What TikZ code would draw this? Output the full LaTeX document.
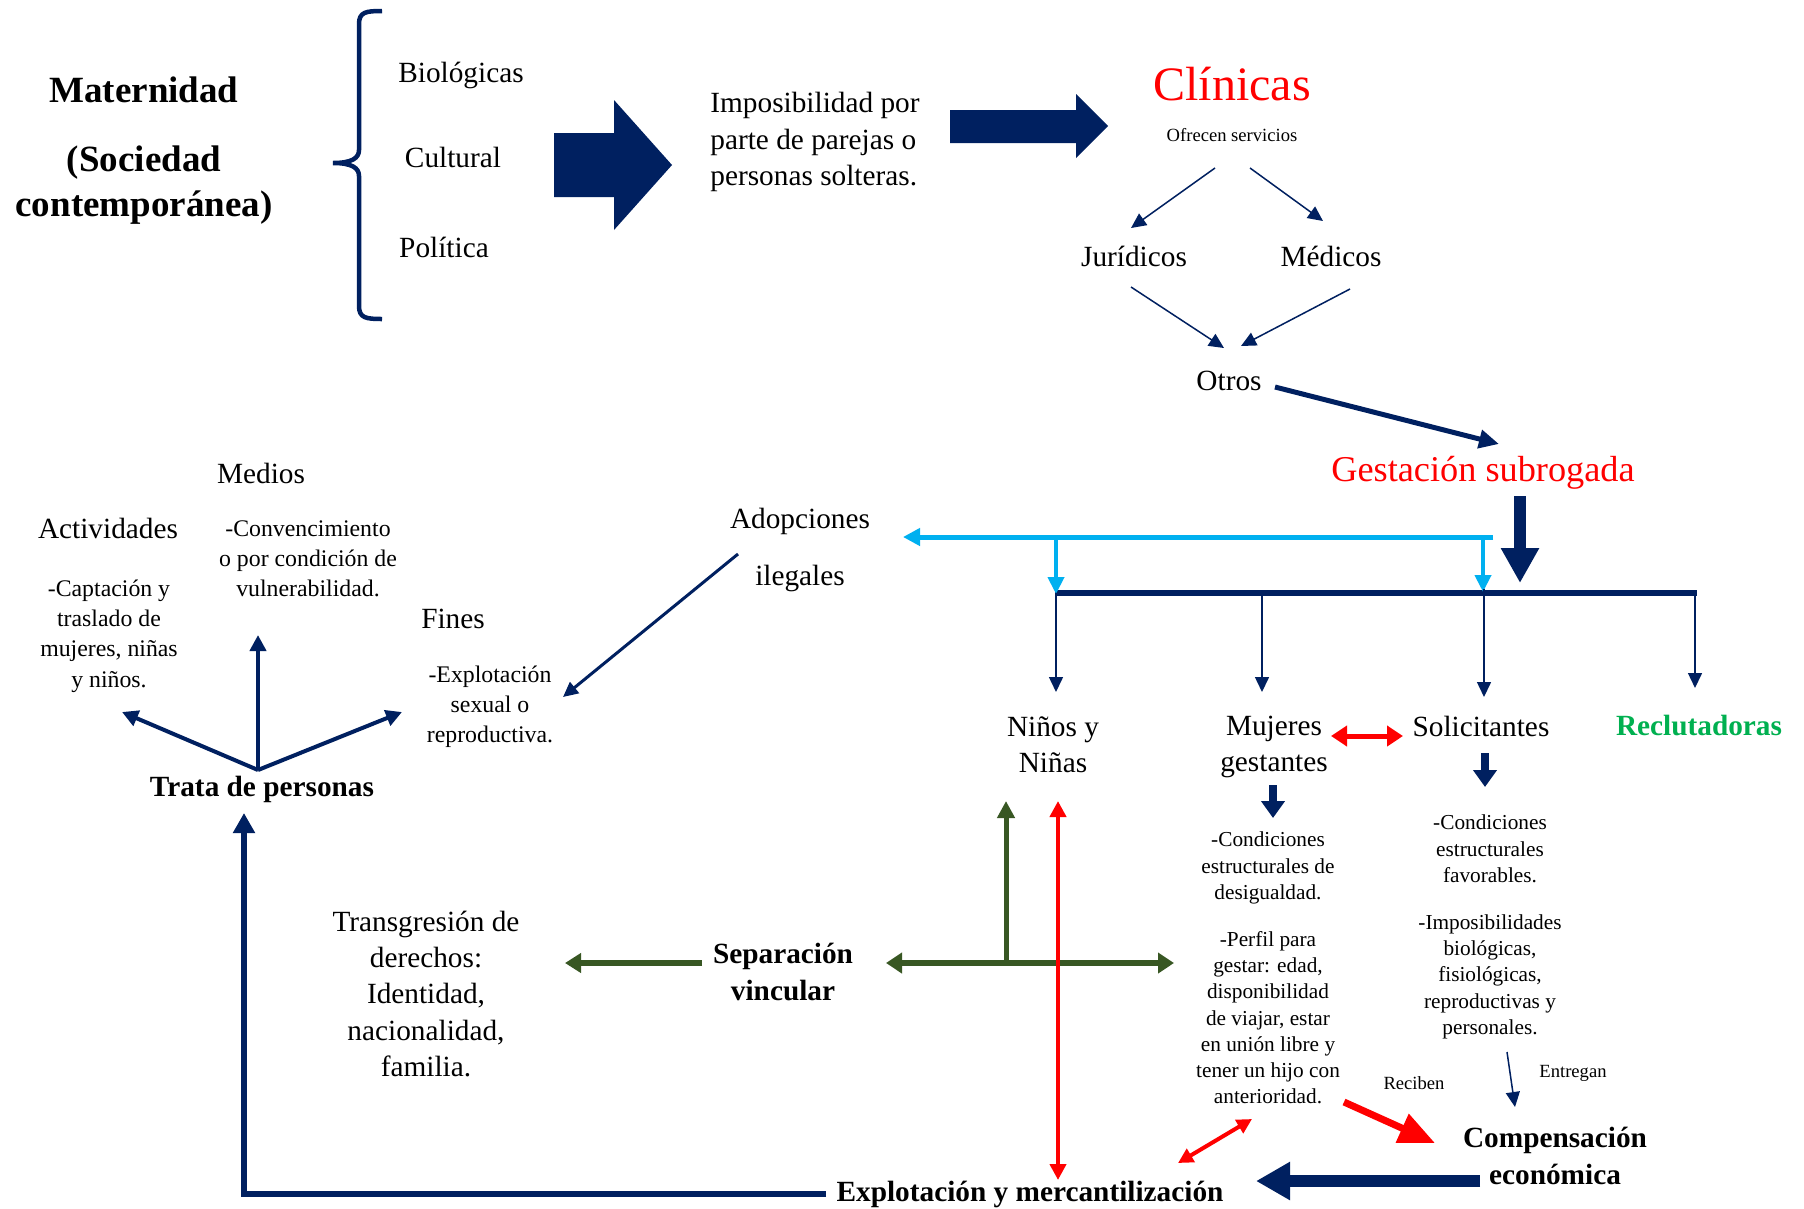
\documentclass[tikz,border=0pt]{standalone}
\usepackage{fontspec}
\setmainfont{Liberation Serif}
\usetikzlibrary{arrows.meta,calc}
\definecolor{navy}{HTML}{002060}
\definecolor{cyanb}{HTML}{00B0F0}
\definecolor{dgreen}{HTML}{385723}
\definecolor{lgreen}{HTML}{00B050}
\definecolor{redc}{HTML}{FF0000}
\begin{document}
\begin{tikzpicture}[x=1pt,y=-1pt,
  every node/.style={inner sep=0pt,outer sep=0pt,align=center},
  tbig/.style={font=\fontsize{29.3}{36.2}\selectfont},
  tbold/.style={font=\bfseries\fontsize{29.3}{36.6}\selectfont},
  ttitle/.style={font=\bfseries\fontsize{37}{44}\selectfont},
  tmid/.style={font=\fontsize{23.8}{30.2}\selectfont},
  tsmall/.style={font=\fontsize{21.3}{26.2}\selectfont},
  ttiny/.style={font=\fontsize{18.6}{22}\selectfont},
  thinarr/.style={draw=navy,line width=1.5pt,-{Triangle[length=15pt,width=14pt]}},
  trataarr/.style={draw=navy,line width=4pt,-{Triangle[length=16pt,width=16pt]}},
  blockarr/.style={fill=navy},
]
\fill[white] (0,0) rectangle (1804,1208);
\useasboundingbox (0,0) rectangle (1804,1208);

% ---------- top row ----------
\node[ttitle] (mat) at (144,90) {Maternidad};
\node[ttitle] (soc) at (144,163) {(Sociedad};
\node[ttitle] (con) at (144,208) {contemporánea)};

\draw[navy,line width=4.5pt]
  (382,11) .. controls (366,11) and (359,12) .. (359,24) -- (359,150)
  .. controls (359,158) and (352,163) .. (333,163)
  .. controls (352,163) and (359,168) .. (359,176) -- (359,306)
  .. controls (359,318) and (366,319) .. (382,319);

\node[tbig] (bio) at (461,75) {Biológicas};
\node[tbig] (cul) at (453,157) {Cultural};
\node[tbig] (pol) at (444,247) {Política};

\fill[blockarr] (554,133) -- (614,133) -- (614,100) -- (672,165) -- (614,230) -- (614,197) -- (554,197) -- cycle;

\node[tbig,align=left] (imp) at (815,142) {Imposibilidad por\\parte de parejas o\\personas solteras.};

\fill[blockarr] (950,110) -- (1076,110) -- (1076,94) -- (1108,126) -- (1076,158) -- (1076,143) -- (950,143) -- cycle;

\node[font=\fontsize{48}{56}\selectfont,text=redc] (cli) at (1232,84) {Clínicas};
\node[ttiny] (ofr) at (1232,135) {Ofrecen servicios};
\node[tbig] (jur) at (1134,256) {Jurídicos};
\node[tbig] (med) at (1331,256) {Médicos};
\node[tbig] (otr) at (1229,381) {Otros};

\draw[thinarr] ([shift={(-17,33)}]ofr.center) -- ([shift={(-3,-28)}]jur.center);
\draw[thinarr] ([shift={(18,33)}]ofr.center) -- ([shift={(-8,-35)}]med.center);
\draw[thinarr] ([shift={(-3,31)}]jur.center) -- ([shift={(-5,-33)}]otr.center);
\draw[thinarr] ([shift={(19,33)}]med.center) -- ([shift={(12,-35)}]otr.center);

\node[font=\fontsize{36.3}{44}\selectfont,text=redc] (ges) at (1483,473) {Gestación subrogada};
\draw[navy,line width=5pt,-{Triangle[length=20pt,width=18pt]}] ([shift={(46,6)}]otr.center) -- ([shift={(16,-29)}]ges.center);

% ---------- bar and branches ----------
\coordinate (barL) at (1056,593);
\coordinate (barM) at (1262,593);
\coordinate (barS) at (1484,593);
\coordinate (barR) at (1695,593);
\coordinate (cyR) at (1491,537);

\draw[navy,line width=11.5pt,-{Triangle[length=35pt,width=36pt]}] ([shift={(37,23)}]ges.center) -- ([shift={(37,110)}]ges.center);
\draw[navy,line width=6pt] ([xshift=-1pt]barL) -- ([xshift=2pt]barR);

\node[tbig] (ado) at (800,550) {Adopciones\\[20pt]ilegales};

\draw[cyanb,line width=5pt,-{Triangle[length=17pt,width=17pt]}] ([xshift=2pt]cyR) -- ([shift={(103,-13)}]ado.center);
\draw[cyanb,line width=4pt,-{Triangle[length=17pt,width=16pt]}] (barL |- cyR) -- ([yshift=-1pt]barL);
\draw[cyanb,line width=4pt,-{Triangle[length=17pt,width=16pt]}] ([xshift=-1pt]barS |- cyR) -- ([shift={(-1,-1)}]barS);

\node[tbig] (nin) at (1053,745) {Niños y\\Niñas};
\node[tbig] (muj) at (1274,747) {Mujeres\\gestantes};
\node[tbig] (sol) at (1481,726) {Solicitantes};
\node[tbold,text=lgreen] (rcl) at (1699,726) {Reclutadoras};

\draw[thinarr] (barL) -- ([shift={(3,-53)}]nin.center);
\draw[thinarr] (barM) -- ([shift={(-12,-55)}]muj.center);
\draw[thinarr] ([yshift=4pt]barS) -- ([shift={(3,-29)}]sol.center);
\draw[thinarr] (barR) -- ([shift={(-4,-38)}]rcl.center);

\draw[redc,line width=5pt,{Triangle[length=16pt,width=20pt]}-{Triangle[length=16pt,width=20pt]}] ([shift={(57,-11)}]muj.center) -- ([shift={(-78,10)}]sol.center);

\draw[navy,line width=8pt,-{Triangle[length=17pt,width=23pt]}] ([shift={(-1,38)}]muj.center) -- ([shift={(-1,71)}]muj.center);
\draw[navy,line width=8pt,-{Triangle[length=17pt,width=23pt]}] ([shift={(4,27)}]sol.center) -- ([shift={(4,61)}]sol.center);

\node[tsmall] (mtx) at (1268,968) {-Condiciones\\estructurales de\\desigualdad.\\[21pt]-Perfil para\\gestar: edad,\\disponibilidad\\de viajar, estar\\en unión libre y\\tener un hijo con\\anterioridad.};
\node[tsmall] (stx) at (1490,927) {-Condiciones\\estructurales\\favorables.\\[21pt]-Imposibilidades\\biológicas,\\fisiológicas,\\reproductivas y\\personales.};

\node[ttiny] (rcb) at (1414,1083) {Reciben};
\node[ttiny] (ent) at (1573,1073) {Entregan};
\node[tbold] (cmp) at (1555,1156) {Compensación\\económica};
\node[tbold] (exp) at (1030,1194) {Explotación y mercantilización};

\draw[thinarr] ([shift={(17,125)}]stx.center) -- ([shift={(-40,-49)}]cmp.center);
\draw[redc,line width=7pt,-{Triangle[length=36pt,width=30pt]}] ([shift={(76,134)}]mtx.center) -- ([shift={(-120,-13)}]cmp.center);
\draw[redc,line width=4pt,{Triangle[length=15pt,width=15pt]}-{Triangle[length=15pt,width=15pt]}] ([shift={(-16,151)}]mtx.center) -- ([shift={(148,-31)}]exp.center);
\draw[navy,line width=12pt,-{Triangle[length=34pt,width=36pt]}] ([shift={(-75,25)}]cmp.center) -- ([shift={(226,-13)}]exp.center);

% ---------- left side ----------
\node[tbold] (tra) at (262,789) {Trata de personas};
\node[tbig] (mdi) at (261,473) {Medios};
\node[tbig] (act) at (108,528) {Actividades};
\node[tmid] (cnv) at (308,559) {-Convencimiento\\o por condición de\\vulnerabilidad.};
\node[tmid] (cap) at (109,636) {-Captación y\\traslado de\\mujeres, niñas\\y niños.};
\node[tbig] (fin) at (453,619) {Fines};
\node[tmid] (exf) at (490,707) {-Explotación\\sexual o\\reproductiva.};

\draw[trataarr] ([shift={(-4,-19)}]tra.center) -- ([shift={(13,76)}]cap.center);
\draw[trataarr] ([shift={(-4,-19)}]tra.center) -- ([shift={(-50,76)}]cnv.center);
\draw[trataarr] ([shift={(-4,-19)}]tra.center) -- ([shift={(-88,5)}]exf.center);

\draw[navy,line width=3pt,-{Triangle[length=15pt,width=14pt]}] ([shift={(-62,4)}]ado.center) -- ([shift={(73,-10)}]exf.center);

\draw[navy,line width=6pt,-{Triangle[length=20pt,width=21pt]}] ([shift={(-204,0)}]exp.center) -- ([shift={(-18,0)}]tra.center |- exp.center) -- ([shift={(-18,24)}]tra.center);

\node[tbig] (trg) at (426,994) {Transgresión de\\derechos:\\Identidad,\\nacionalidad,\\familia.};
\node[tbold] (sep) at (783,972) {Separación\\vincular};

\draw[dgreen,line width=6pt,-{Triangle[length=16pt,width=19pt]}] ([shift={(-81,-9)}]sep.center) -- ([shift={(139,-31)}]trg.center);
\draw[dgreen,line width=6pt,{Triangle[length=16pt,width=20pt]}-{Triangle[length=16pt,width=20pt]}] ([shift={(103,-9)}]sep.center) -- ([shift={(-94,-5)}]mtx.center);
\draw[dgreen,line width=5pt,-{Triangle[length=17pt,width=17pt]}] ([shift={(223,-9)}]sep.center) -- ([shift={(-47,56)}]nin.center);
\draw[redc,line width=4pt,{Triangle[length=16pt,width=16pt]}-{Triangle[length=16pt,width=16pt]}] ([shift={(5,56)}]nin.center) -- ([shift={(28,-14)}]exp.center);
\end{tikzpicture}
\end{document}
